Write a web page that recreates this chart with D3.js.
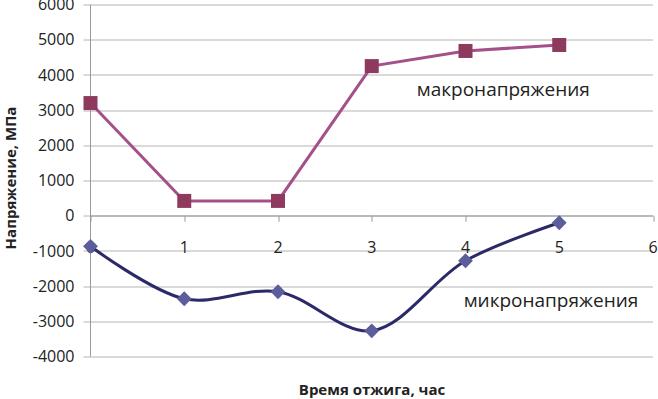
<!DOCTYPE html>
<html>
<head>
<meta charset="utf-8">
<script src="https://cdn.jsdelivr.net/npm/d3@7"></script>
<style>
  body { margin: 0; background: #fff; }
  text { font-family: "Open Sans", sans-serif; fill: #222; }
</style>
</head>
<body>
<div id="chart"></div>
<script>
// annealing time, hours
const hours = [0, 1, 2, 3, 4, 5];
const macroStress = [3200, 420, 420, 4250, 4680, 4850];
const microStress = [-870, -2360, -2160, -3270, -1280, -200];
const yTicks = [-4000, -3000, -2000, -1000, 0, 1000, 2000, 3000, 4000, 5000, 6000];
const xTicks = [0, 1, 2, 3, 4, 5, 6];

const W = 658, H = 399;
const margin = { top: 4.5, right: 5, bottom: 42.5, left: 90.5 };
const width = W - margin.left - margin.right;
const height = H - margin.top - margin.bottom;

const svg = d3.select("#chart").append("svg")
  .attr("width", W)
  .attr("height", H);

const g = svg.append("g")
  .attr("transform", `translate(${margin.left},${margin.top})`);

const x = d3.scaleLinear().domain([0, 6]).range([0, width]);
const y = d3.scaleLinear().domain([-4000, 6000]).range([height, 0]);

// horizontal gridlines + left ticks
g.append("g")
  .selectAll("line")
  .data(yTicks)
  .enter().append("line")
  .attr("x1", -7)
  .attr("x2", width)
  .attr("y1", d => Math.round(y(d)) + 0.5)
  .attr("y2", d => Math.round(y(d)) + 0.5)
  .attr("stroke", "#b4b4b4")
  .attr("stroke-width", 1);

// y tick labels
g.append("g")
  .selectAll("text")
  .data(yTicks)
  .enter().append("text")
  .attr("x", -16)
  .attr("y", d => y(d))
  .attr("dy", "0.35em")
  .attr("text-anchor", "end")
  .style("font-size", "16px")
  .text(d => d);

// vertical axis line
g.append("line")
  .attr("x1", 0).attr("x2", 0)
  .attr("y1", 0).attr("y2", height)
  .attr("stroke", "#9a9a9a");

// x axis at zero
g.append("line")
  .attr("x1", 0).attr("x2", width)
  .attr("y1", Math.round(y(0)) + 0.5).attr("y2", Math.round(y(0)) + 0.5)
  .attr("stroke", "#9a9a9a");

g.append("g")
  .selectAll("line")
  .data(xTicks)
  .enter().append("line")
  .attr("x1", d => Math.round(x(d)) + 0.5)
  .attr("x2", d => Math.round(x(d)) + 0.5)
  .attr("y1", y(0))
  .attr("y2", y(0) + 6)
  .attr("stroke", "#9a9a9a");

g.append("g")
  .selectAll("text")
  .data(xTicks)
  .enter().append("text")
  .attr("x", d => x(d))
  .attr("y", y(0) + 37)
  .attr("text-anchor", "middle")
  .style("font-size", "16px")
  .text(d => d);

// macro stress series
const macro = hours.map((h, i) => ({ h, v: macroStress[i] }));
const micro = hours.map((h, i) => ({ h, v: microStress[i] }));

g.append("path")
  .datum(macro)
  .attr("fill", "none")
  .attr("stroke", "#a4518a")
  .attr("stroke-width", 3)
  .attr("d", d3.line().x(d => x(d.h)).y(d => y(d.v)));

g.append("g")
  .selectAll("rect")
  .data(macro)
  .enter().append("rect")
  .attr("x", d => x(d.h) - 7)
  .attr("y", d => y(d.v) - 7)
  .attr("width", 14)
  .attr("height", 14)
  .attr("fill", "#8e3a5e");

// micro stress series (smoothed)
g.append("path")
  .datum(micro)
  .attr("fill", "none")
  .attr("stroke", "#2c2968")
  .attr("stroke-width", 3)
  .attr("d", d3.line().curve(d3.curveCatmullRom.alpha(0.5)).x(d => x(d.h)).y(d => y(d.v)));

g.append("g")
  .selectAll("path")
  .data(micro)
  .enter().append("path")
  .attr("transform", d => `translate(${x(d.h)},${y(d.v)}) rotate(45)`)
  .attr("d", d3.symbol().type(d3.symbolSquare).size(110))
  .attr("fill", "#5b5e9a");

// series labels
g.append("text")
  .attr("x", x(3.48))
  .attr("y", y(3400))
  .style("font-size", "19px")
  .text("макронапряжения");

g.append("text")
  .attr("x", x(3.98))
  .attr("y", y(-2590))
  .style("font-size", "19px")
  .text("микронапряжения");

// axis titles
svg.append("text")
  .attr("transform", `translate(11,${178}) rotate(-90)`)
  .attr("text-anchor", "middle")
  .attr("dy", "0.35em")
  .style("font-size", "15px")
  .style("font-weight", "bold")
  .text("Напряжение, МПа");

svg.append("text")
  .attr("x", 372)
  .attr("y", 395)
  .attr("text-anchor", "middle")
  .style("font-size", "15px")
  .style("font-weight", "bold")
  .text("Время отжига, час");
</script>
</body>
</html>
